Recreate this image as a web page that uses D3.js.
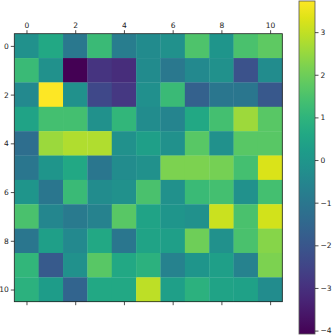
<!DOCTYPE html>
<html>
<head>
<meta charset="utf-8">
<script src="https://cdn.jsdelivr.net/npm/d3@7"></script>
<style>
  body { margin: 0; background: #fff; }
  svg text { font-family: "DejaVu Sans", sans-serif; font-size: 7.5px; fill: #222; }
</style>
</head>
<body>
<svg id="chart" width="332" height="336"></svg>
<script>
// matrix values, row by row
var rowIdx = d3.range(11);
var colIdx = d3.range(11);
var row0 = [-0.17, 0.6, -0.96, 1.2, -0.8, -0.33, -0.17, 1.54, 0.0, 1.5, 1.8];
var row1 = [1.2, -0.17, -4.08, -2.9, -3.1, -0.33, -0.96, -0.4, -0.17, -2.1, -0.3];
var row2 = [-0.4, 3.73, -0.17, -2.4, -2.8, -0.2, 1.2, -1.7, -1.0, -1.0, -1.95];
var row3 = [0.45, 1.4, 1.4, -0.17, 1.07, -0.3, -0.55, 0.6, 1.4, 2.6, 1.7];
var row4 = [-1.3, 2.55, 2.8, 2.8, -0.17, 0.3, -0.17, 1.7, -0.17, 1.7, 1.7];
var row5 = [-1.0, 0.0, 0.6, -1.0, -0.3, -0.17, 2.2, 2.2, 2.1, 1.4, 3.3];
var row6 = [0.0, -1.0, 1.2, -0.3, -0.17, 1.5, -0.15, 1.2, 1.4, -0.17, 1.4];
var row7 = [1.5, -0.5, -0.9, -0.65, 1.7, 0.45, 0.0, -0.17, 3.1, 1.5, 3.2];
var row8 = [-1.0, 0.3, -0.4, 0.6, -1.0, 0.45, 0.3, 2.0, -0.17, 1.5, 2.3];
var row9 = [1.07, -1.9, -0.17, 1.7, 0.6, 0.9, -0.65, 0.0, 0.3, -0.65, 2.2];
var row10 = [0.9, 0.2, -1.6, 0.6, 0.6, 2.95, 0.3, 0.9, 0.45, 0.4, -0.3];
var matrix = [row0, row1, row2, row3, row4, row5, row6, row7, row8, row9, row10];
var axisTicks = [0, 2, 4, 6, 8, 10];
var colorbarTicks = [-4, -3, -2, -1, 0, 1, 2, 3];

var svg = d3.select("#chart");

// heatmap box
var L = 14.3, T = 33.7, W = 268, H = 268;
var x = d3.scaleBand().domain(colIdx).range([L, L + W]);
var y = d3.scaleBand().domain(rowIdx).range([T, T + H]);
var xPos = d3.scaleLinear().domain([-0.5, 10.5]).range([L, L + W]);
var yPos = d3.scaleLinear().domain([-0.5, 10.5]).range([T, T + H]);

var allVals = matrix.flat();
var color = d3.scaleSequential(d3.interpolateViridis).domain(d3.extent(allVals));

var cells = [];
matrix.forEach(function(r, i) { r.forEach(function(v, j) { cells.push({i: i, j: j, v: v}); }); });

svg.append("g").selectAll("rect").data(cells).join("rect")
    .attr("x", function(d) { return x(d.j); })
    .attr("y", function(d) { return y(d.i); })
    .attr("width", x.bandwidth() + 0.3).attr("height", y.bandwidth() + 0.3)
    .attr("fill", function(d) { return color(d.v); });

svg.append("rect").attr("x", L).attr("y", T).attr("width", W).attr("height", H)
    .attr("fill", "none").attr("stroke", "#222").attr("stroke-width", 0.8);

var fmt = function(d) { return String(d).replace("-", "\u2212"); };

var tidy = function(g) {
    g.select(".domain").remove();
    g.selectAll("line").attr("stroke", "#222").attr("stroke-width", 0.8);
    g.selectAll("text").attr("font-family", null).attr("font-size", null);
};

// top axis with labels
svg.append("g").attr("transform", "translate(0," + T + ")")
    .call(d3.axisTop(xPos).tickValues(axisTicks).tickSize(3.5).tickPadding(2).tickFormat(fmt))
    .call(tidy);
// bottom axis, ticks only
svg.append("g").attr("transform", "translate(0," + (T + H) + ")")
    .call(d3.axisBottom(xPos).tickValues(axisTicks).tickSize(3.5).tickFormat(""))
    .call(tidy);
// left axis
svg.append("g").attr("transform", "translate(" + L + ",0)")
    .call(d3.axisLeft(yPos).tickValues(axisTicks).tickSize(3.5).tickPadding(2).tickFormat(fmt))
    .call(tidy);

// colorbar
var cbX = 299, cbW = 16, cbTop = 1, cbBot = 334;
var cbScale = d3.scaleLinear().domain(color.domain()).range([cbBot, cbTop]);
var grad = svg.append("defs").append("linearGradient").attr("id", "cbgrad")
    .attr("x1", 0).attr("y1", 1).attr("x2", 0).attr("y2", 0);
d3.range(0, 21).forEach(function(k) {
    var t = k / 20;
    grad.append("stop").attr("offset", t).attr("stop-color", d3.interpolateViridis(t));
});
svg.append("rect").attr("x", cbX).attr("y", cbTop).attr("width", cbW).attr("height", cbBot - cbTop)
    .attr("fill", "url(#cbgrad)").attr("stroke", "#555").attr("stroke-width", 0.8);

svg.append("g").attr("transform", "translate(" + (cbX + cbW) + ",0)")
    .call(d3.axisRight(cbScale).tickValues(colorbarTicks).tickSize(3.5).tickPadding(2).tickFormat(fmt))
    .call(tidy);
</script>
</body>
</html>
